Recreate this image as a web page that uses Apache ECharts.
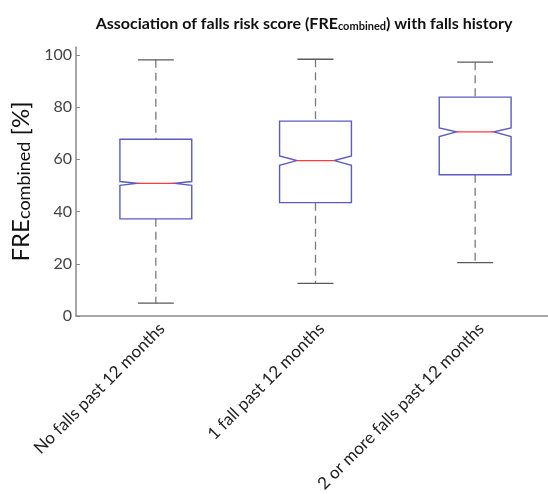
<!DOCTYPE html>
<html><head><meta charset="utf-8">
<script src="https://cdn.jsdelivr.net/npm/echarts@6/dist/echarts.min.js"></script>
<style>html,body{margin:0;padding:0;background:#fff}#c{width:548px;height:494px}</style>
</head><body><div id="c"></div>
<script>
const categories = ['No falls past 12 months', '1 fall past 12 months', '2 or more falls past 12 months'];
const whiskerLow = [4.9, 12.5, 20.4];
const q1 = [37.2, 43.4, 54.1];
const notchLow = [50.0, 57.7, 68.7];
const median = [50.8, 59.5, 70.5];
const notchHigh = [51.5, 61.3, 72.0];
const q3 = [67.7, 74.6, 83.8];
const whiskerHigh = [98.1, 98.3, 97.2];
const yTicks = [0, 20, 40, 60, 80, 100];

const data = categories.map((c, i) => [i, whiskerLow[i], q1[i], notchLow[i], median[i], notchHigh[i], q3[i], whiskerHigh[i]]);
const FONT = 'Lato';
const chart = echarts.init(document.getElementById('c'));
chart.setOption({
  animation: false,
  title: {
    text: '{t|Association of falls risk score (FRE}{s|combined}{t|) with falls history}',
    left: 299, top: 7, textAlign: 'center',
    textStyle: {
      rich: {
        t: {fontFamily: FONT, fontWeight: 'bold', fontSize: 16, color: '#111', lineHeight: 20, verticalAlign: 'bottom'},
        s: {fontFamily: FONT, fontWeight: 'bold', fontSize: 11, color: '#111', lineHeight: 10, verticalAlign: 'bottom'}
      }
    }
  },
  grid: {left: 76, right: -7, top: 47, bottom: 178, containLabel: false, outerBoundsMode: 'none'},
  xAxis: {
    type: 'category', data: categories, boundaryGap: true,
    axisLine: {lineStyle: {color: '#8a8a8a', width: 1.5}},
    axisTick: {inside: true, alignWithLabel: true, length: 4, lineStyle: {color: '#8a8a8a'}},
    axisLabel: {rotate: 45, fontFamily: FONT, fontSize: 17, color: '#222', margin: 4, interval: 0,
      align: 'right', verticalAlign: 'top'}
  },
  yAxis: {
    type: 'value', min: 0, max: 103,
    name: '{a|FRE}{b|combined}{a| [%]}',
    nameLocation: 'middle', nameRotate: 90, nameGap: 40,
    nameTextStyle: {
      rich: {
        a: {fontFamily: FONT, fontSize: 24, color: '#111', lineHeight: 28, verticalAlign: 'bottom'},
        b: {fontFamily: FONT, fontSize: 18, color: '#111', lineHeight: 14, verticalAlign: 'bottom'}
      }
    },
    axisLine: {show: true, lineStyle: {color: '#8a8a8a', width: 1.5}},
    axisTick: {show: true, inside: true, length: 4, customValues: yTicks, lineStyle: {color: '#8a8a8a'}},
    axisLabel: {customValues: yTicks, fontFamily: FONT, fontSize: 16, color: '#444', margin: 4},
    splitLine: {show: false}
  },
  series: [{
    type: 'custom',
    data: data,
    encode: {x: 0, y: [1, 2, 3, 4, 5, 6, 7]},
    renderItem: function (params, api) {
      const x = api.value(0);
      const cx = api.coord([x, 0])[0];
      const y = v => api.coord([x, v])[1];
      const bw = api.size([1, 0])[0] * 0.45;
      const half = bw / 2, indent = bw * 0.24, cap = bw / 4;
      const ywl = y(api.value(1)), yq1 = y(api.value(2)), ynl = y(api.value(3)), ym = y(api.value(4)),
            ynh = y(api.value(5)), yq3 = y(api.value(6)), ywh = y(api.value(7));
      const dash = {stroke: '#7a7a7a', lineWidth: 1.3, lineDash: [8, 5]};
      const capStyle = {stroke: '#5a5a5a', lineWidth: 1.3};
      const L = cx - half, R = cx + half;
      return {
        type: 'group',
        children: [
          {type: 'line', shape: {x1: cx, y1: ywh, x2: cx, y2: yq3}, style: dash},
          {type: 'line', shape: {x1: cx, y1: yq1, x2: cx, y2: ywl}, style: dash},
          {type: 'line', shape: {x1: cx - cap, y1: ywh, x2: cx + cap, y2: ywh}, style: capStyle},
          {type: 'line', shape: {x1: cx - cap, y1: ywl, x2: cx + cap, y2: ywl}, style: capStyle},
          {type: 'polygon', shape: {points: [
            [L, yq3], [R, yq3], [R, ynh], [R - indent, ym], [R, ynl], [R, yq1],
            [L, yq1], [L, ynl], [L + indent, ym], [L, ynh]
          ]}, style: {fill: 'none', stroke: '#5b5bc4', lineWidth: 1.4}},
          {type: 'line', shape: {x1: L + indent, y1: ym, x2: R - indent, y2: ym}, style: {stroke: '#ff3a3a', lineWidth: 1.4}}
        ]
      };
    }
  }]
});
</script></body></html>
